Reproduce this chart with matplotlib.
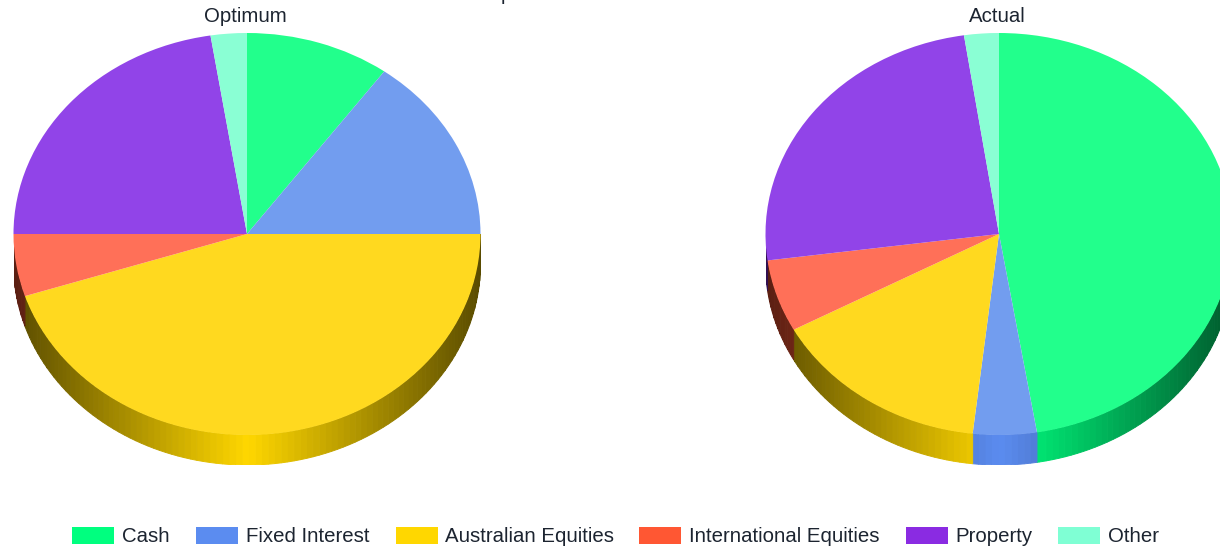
import numpy as np
import matplotlib
matplotlib.use("Agg")
import matplotlib.pyplot as plt
from matplotlib.patches import Rectangle, Polygon

categories = ["Cash", "Fixed Interest", "Australian Equities",
              "International Equities", "Property", "Other"]
optimum = [10, 15, 45, 5, 22.5, 2.5]
actual = [47.4, 4.4, 15.3, 5.8, 24.7, 2.4]
top_colors = ["#22FF8C", "#729DEF", "#FFD91F", "#FF7058", "#9144E8", "#8AFFD4"]
base_colors = ["#00FF7F", "#5B8CF0", "#FFD700", "#FF5733", "#8A2BE2", "#7FFFD4"]

W, H = 1220, 550
RX, RY, DEPTH = 233.5, 201, 30
CY = 234
FONT = "Liberation Sans"
FS = 14.7
TXT = "#1c2430"

fig = plt.figure(figsize=(W / 100, H / 100), dpi=100, facecolor="white")


def draw_pie(values, cx, title):
    left = (cx - RX) / W
    bottom = 1 - (CY + RY + DEPTH) / H
    ax = fig.add_axes([left, bottom, 2 * RX / W, (2 * RY + DEPTH) / H])
    d = DEPTH / RY
    # side wall, shaded in narrow bands
    cum = np.concatenate([[0], np.cumsum(values)]) / np.sum(values) * 360
    for i, col in enumerate(base_colors):
        a0, a1 = max(cum[i], 90), min(cum[i + 1], 270)
        if a1 <= a0:
            continue
        edges = np.unique(np.concatenate([np.arange(a0, a1, 1.6), [a1]]))
        rgb = np.array(matplotlib.colors.to_rgb(col))
        for t0, t1 in zip(edges[:-1], edges[1:]):
            t = np.radians(np.linspace(t0, t1, 5))
            x, y = np.sin(t), np.cos(t)
            f = 1 - 0.65 * abs(np.sin(np.radians((t0 + t1) / 2)))
            pts = np.r_[np.c_[x, y], np.c_[x[::-1], y[::-1] - d]]
            ax.add_patch(Polygon(pts, closed=True, fc=rgb * f, ec=rgb * f,
                                 lw=0.7, joinstyle="bevel", zorder=1))
    wedges, _ = ax.pie(values, colors=top_colors, startangle=90, counterclock=False,
                       radius=1, wedgeprops={"linewidth": 0, "zorder": 2})
    ax.set_aspect("auto")
    ax.set_xlim(-1, 1)
    ax.set_ylim(-1 - d, 1)
    ax.axis("off")
    for w in wedges:
        w.set_clip_on(False)
    fig.text((cx - 2) / W, 1 - 16 / H, title, ha="center", va="center",
             family=FONT, fontsize=FS, color=TXT)


draw_pie(optimum, 247, "Optimum")
draw_pie(actual, 999, "Actual")

# clipped remnant of the chart title at the top edge, cut off as in the reference
fig.text(506 / W, 1.0, "p", ha="center", va="baseline", family=FONT, fontsize=FS, color=TXT)

# legend
swatch_x = [72, 196, 396, 639, 906, 1058]
text_x = [122, 246, 445, 689, 955, 1108]
for name, col, sx, tx in zip(categories, base_colors, swatch_x, text_x):
    fig.add_artist(Rectangle((sx / W, 1 - 544 / H), 42 / W, 17 / H, fc=col, ec="none",
                             transform=fig.transFigure))
    fig.text(tx / W, 1 - 536.5 / H, name, ha="left", va="center",
             family=FONT, fontsize=FS, color=TXT)

fig.savefig("out.png", dpi=100, facecolor="white")
